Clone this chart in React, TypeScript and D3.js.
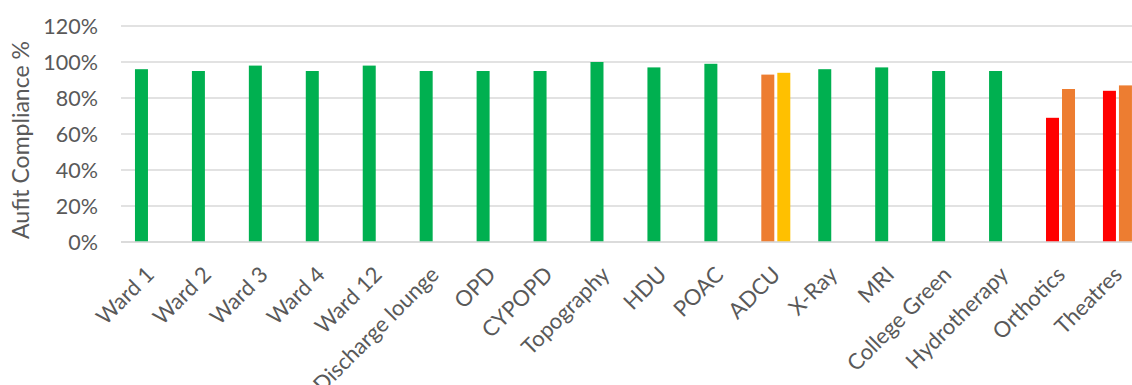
import React from "react";
import * as d3 from "d3";

// Audit compliance by area, two audit rounds (second round only where re-audited)
const categories = [
  "Ward 1", "Ward 2", "Ward 3", "Ward 4", "Ward 12", "Discharge lounge", "OPD", "CYPOPD",
  "Topography", "HDU", "POAC", "ADCU", "X-Ray", "MRI", "College Green", "Hydrotherapy",
  "Orthotics", "Theatres",
];
const roundOne: (number | null)[] = [96, 95, 98, 95, 98, 95, 95, 95, 100, 97, 99, 93, 96, 97, 95, 95, 69, 84];
const roundTwo: (number | null)[] = [null, null, null, null, null, null, null, null, null, null, null, 94, null, null, null, null, 85, 87];
const yTicks = [0, 20, 40, 60, 80, 100, 120];

const W = 1132;
const H = 385;
const left = 121;
const step = 56.94;
const top = 26;
const bottom = 242;

const FONT = "Lato, 'Noto Sans', sans-serif";
const TEXT = "#595959";

export default function App() {
  const x = d3
    .scaleBand<string>()
    .domain(categories)
    .range([left, left + step * categories.length])
    .paddingInner(0)
    .paddingOuter(0);
  const y = d3.scaleLinear().domain([0, 120]).range([bottom, top]);

  // RAG colouring by compliance level
  const rag = d3
    .scaleThreshold<number, string>()
    .domain([85, 94, 95])
    .range(["#FF0000", "#ED7D31", "#FFC000", "#00B050"]);

  const barW = 13;
  const barGap = 3;
  const groupW = barW * 2 + barGap;

  const series = [roundOne, roundTwo];

  return (
    <svg
      width={W}
      height={H}
      style={{ position: "absolute", left: 0, top: 0, background: "#fff" }}
      fontFamily={FONT}
    >
      {yTicks.map((t) => (
        <g key={t}>
          <line
            x1={left}
            x2={W}
            y1={y(t)}
            y2={y(t)}
            stroke="#D9D9D9"
            strokeWidth={1.4}
          />
          <text
            x={98}
            y={y(t)}
            dy="0.36em"
            textAnchor="end"
            fontSize={21.5}
            fill={TEXT}
          >
            {t}%
          </text>
        </g>
      ))}

      {categories.map((c, i) => {
        const cx = (x(c) as number) + x.bandwidth() / 2;
        const g0 = cx - groupW / 2;
        return (
          <g key={c}>
            {series.map((s, k) => {
              const v = s[i];
              if (v == null) return null;
              return (
                <rect
                  key={k}
                  x={g0 + k * (barW + barGap)}
                  y={y(v)}
                  width={barW}
                  height={bottom - y(v)}
                  fill={rag(v)}
                />
              );
            })}
          </g>
        );
      })}

      <line x1={left} x2={W} y1={bottom} y2={bottom} stroke="#D9D9D9" strokeWidth={1.4} />

      {categories.map((c) => {
        const cx = (x(c) as number) + x.bandwidth() / 2;
        const ax = cx + 6;
        const ay = bottom + 34;
        return (
          <text
            key={c}
            x={ax}
            y={ay}
            textAnchor="end"
            fontSize={22}
            fill={TEXT}
            transform={`rotate(-45 ${ax} ${ay})`}
          >
            {c}
          </text>
        );
      })}

      <text
        x={0}
        y={0}
        transform={`translate(29 140) rotate(-90)`}
        textAnchor="middle"
        fontSize={23}
        fill={TEXT}
      >
        Aufit Compliance %
      </text>
    </svg>
  );
}
